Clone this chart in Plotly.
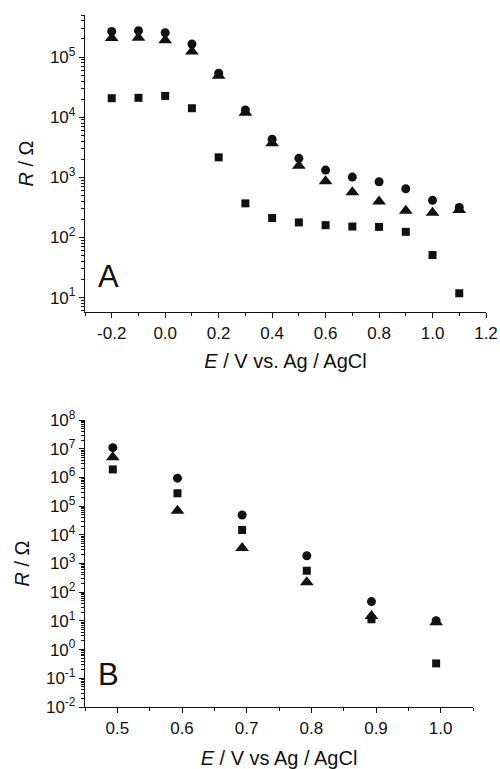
import plotly.graph_objects as go

# Panel A data
xA = [-0.2, -0.1, 0.0, 0.1, 0.2, 0.3, 0.4, 0.5, 0.6, 0.7, 0.8, 0.9, 1.0, 1.1]
A_circle = [2.67e5, 2.74e5, 2.54e5, 1.65e5, 5.4e4, 1.32e4, 4300, 2070, 1320, 1010, 845, 645, 414, 316]
A_triangle = [2.07e5, 2.1e5, 1.9e5, 1.24e5, 4.9e4, 1.19e4, 3690, 1560, 857, 562, 398, 277, 257, 285]
A_square = [2.07e4, 2.1e4, 2.26e4, 1.41e4, 2150, 369, 210, 178, 160, 152, 150, 124, 51, 11.8]

# Panel B data
xB = [0.493, 0.593, 0.693, 0.793, 0.893, 0.993]
B_circle = [1.09e7, 9.4e5, 4.9e4, 1.86e3, 47, 10.2]
B_triangle = [5.0e6, 6.9e4, 3.5e3, 220, 14.8, 8.9]
B_square = [1.9e6, 2.8e5, 1.47e4, 560, 11.4, 0.33]

xA_ticks = [-0.2, 0.0, 0.2, 0.4, 0.6, 0.8, 1.0, 1.2]
xA_ticktext = ["-0.2", "0.0", "0.2", "0.4", "0.6", "0.8", "1.0", "1.2"]
xB_ticks = [0.5, 0.6, 0.7, 0.8, 0.9, 1.0]
xB_ticktext = ["0.5", "0.6", "0.7", "0.8", "0.9", "1.0"]
yA_exps = [1, 2, 3, 4, 5]
yB_exps = [-2, -1, 0, 1, 2, 3, 4, 5, 6, 7, 8]

yA_ticks = [10.0 ** e for e in yA_exps]
yA_ticktext = ["10<sup>%d</sup>" % e for e in yA_exps]
yB_ticks = [10.0 ** e for e in yB_exps]
yB_ticktext = ["10<sup>%d</sup>" % e for e in yB_exps]

INK = "#111111"
FONT = "Liberation Sans, Arial, sans-serif"

fig = go.Figure()

def add_series(x, y, symbol, size, xa, ya):
    fig.add_trace(go.Scatter(x=x, y=y, mode="markers", xaxis=xa, yaxis=ya,
                             marker=dict(symbol=symbol, size=size, color=INK,
                                         line=dict(width=0)),
                             showlegend=False))

add_series(xA, A_square, "square", 8, "x", "y")
add_series(xA, A_triangle, "triangle-up", 12, "x", "y")
add_series(xA, A_circle, "circle", 9, "x", "y")
add_series(xB, B_square, "square", 8, "x2", "y2")
add_series(xB, B_triangle, "triangle-up", 12, "x2", "y2")
add_series(xB, B_circle, "circle", 9, "x2", "y2")

W, H = 500, 769
def px_x(p): return p / W
def px_y(p): return 1 - p / H

common_axis = dict(showline=True, linecolor=INK, linewidth=1.3, showgrid=False,
                   zeroline=False, ticks="outside", tickcolor=INK, ticklen=5,
                   tickwidth=1.2, tickfont=dict(family=FONT, size=17, color=INK),
                   automargin=False, mirror=False)
title_font = dict(size=20, family=FONT, color=INK)
minor_common = dict(ticks="outside", ticklen=3, tickcolor=INK, tickwidth=1)

fig.update_layout(
    width=W, height=H,
    margin=dict(l=0, r=0, t=0, b=0),
    plot_bgcolor="white", paper_bgcolor="white",
    font=dict(family=FONT, color=INK),
    xaxis=dict(**common_axis, domain=[px_x(85), px_x(486)], range=[-0.3, 1.2],
               tickmode="array", tickvals=xA_ticks, ticktext=xA_ticktext, anchor="y",
               minor=dict(**minor_common, dtick=0.1, tick0=-0.3),
               title=dict(text="<i>E</i> / V vs. Ag / AgCl", font=title_font, standoff=12)),
    yaxis=dict(**common_axis, domain=[px_y(312), px_y(15)], type="log", range=[0.76, 5.7],
               tickmode="array", tickvals=yA_ticks, ticktext=yA_ticktext, anchor="x",
               minor=dict(**minor_common, dtick="D1"),
               title=dict(text="<i>R</i> / Ω", font=title_font, standoff=10)),
    xaxis2=dict(**common_axis, domain=[px_x(85), px_x(473)], range=[0.45, 1.05],
                tickmode="array", tickvals=xB_ticks, ticktext=xB_ticktext, anchor="y2",
                minor=dict(**minor_common, dtick=0.05, tick0=0.45),
                title=dict(text="<i>E</i> / V vs Ag / AgCl", font=title_font, standoff=15)),
    yaxis2=dict(**common_axis, domain=[px_y(707), px_y(420)], type="log", range=[-2, 8],
                tickmode="array", tickvals=yB_ticks, ticktext=yB_ticktext, anchor="x2",
                minor=dict(**minor_common, dtick="D1"),
                title=dict(text="<i>R</i> / Ω", font=title_font, standoff=10)),
    annotations=[
        dict(text="A", xref="paper", yref="paper", x=px_x(96), y=px_y(296),
             xanchor="left", yanchor="bottom", showarrow=False,
             font=dict(size=31, family=FONT, color=INK)),
        dict(text="B", xref="paper", yref="paper", x=px_x(96), y=px_y(694),
             xanchor="left", yanchor="bottom", showarrow=False,
             font=dict(size=31, family=FONT, color=INK)),
    ],
)

fig.write_html("out.html", config={"displayModeBar": False},
               post_script="document.body.style.margin='0';")
